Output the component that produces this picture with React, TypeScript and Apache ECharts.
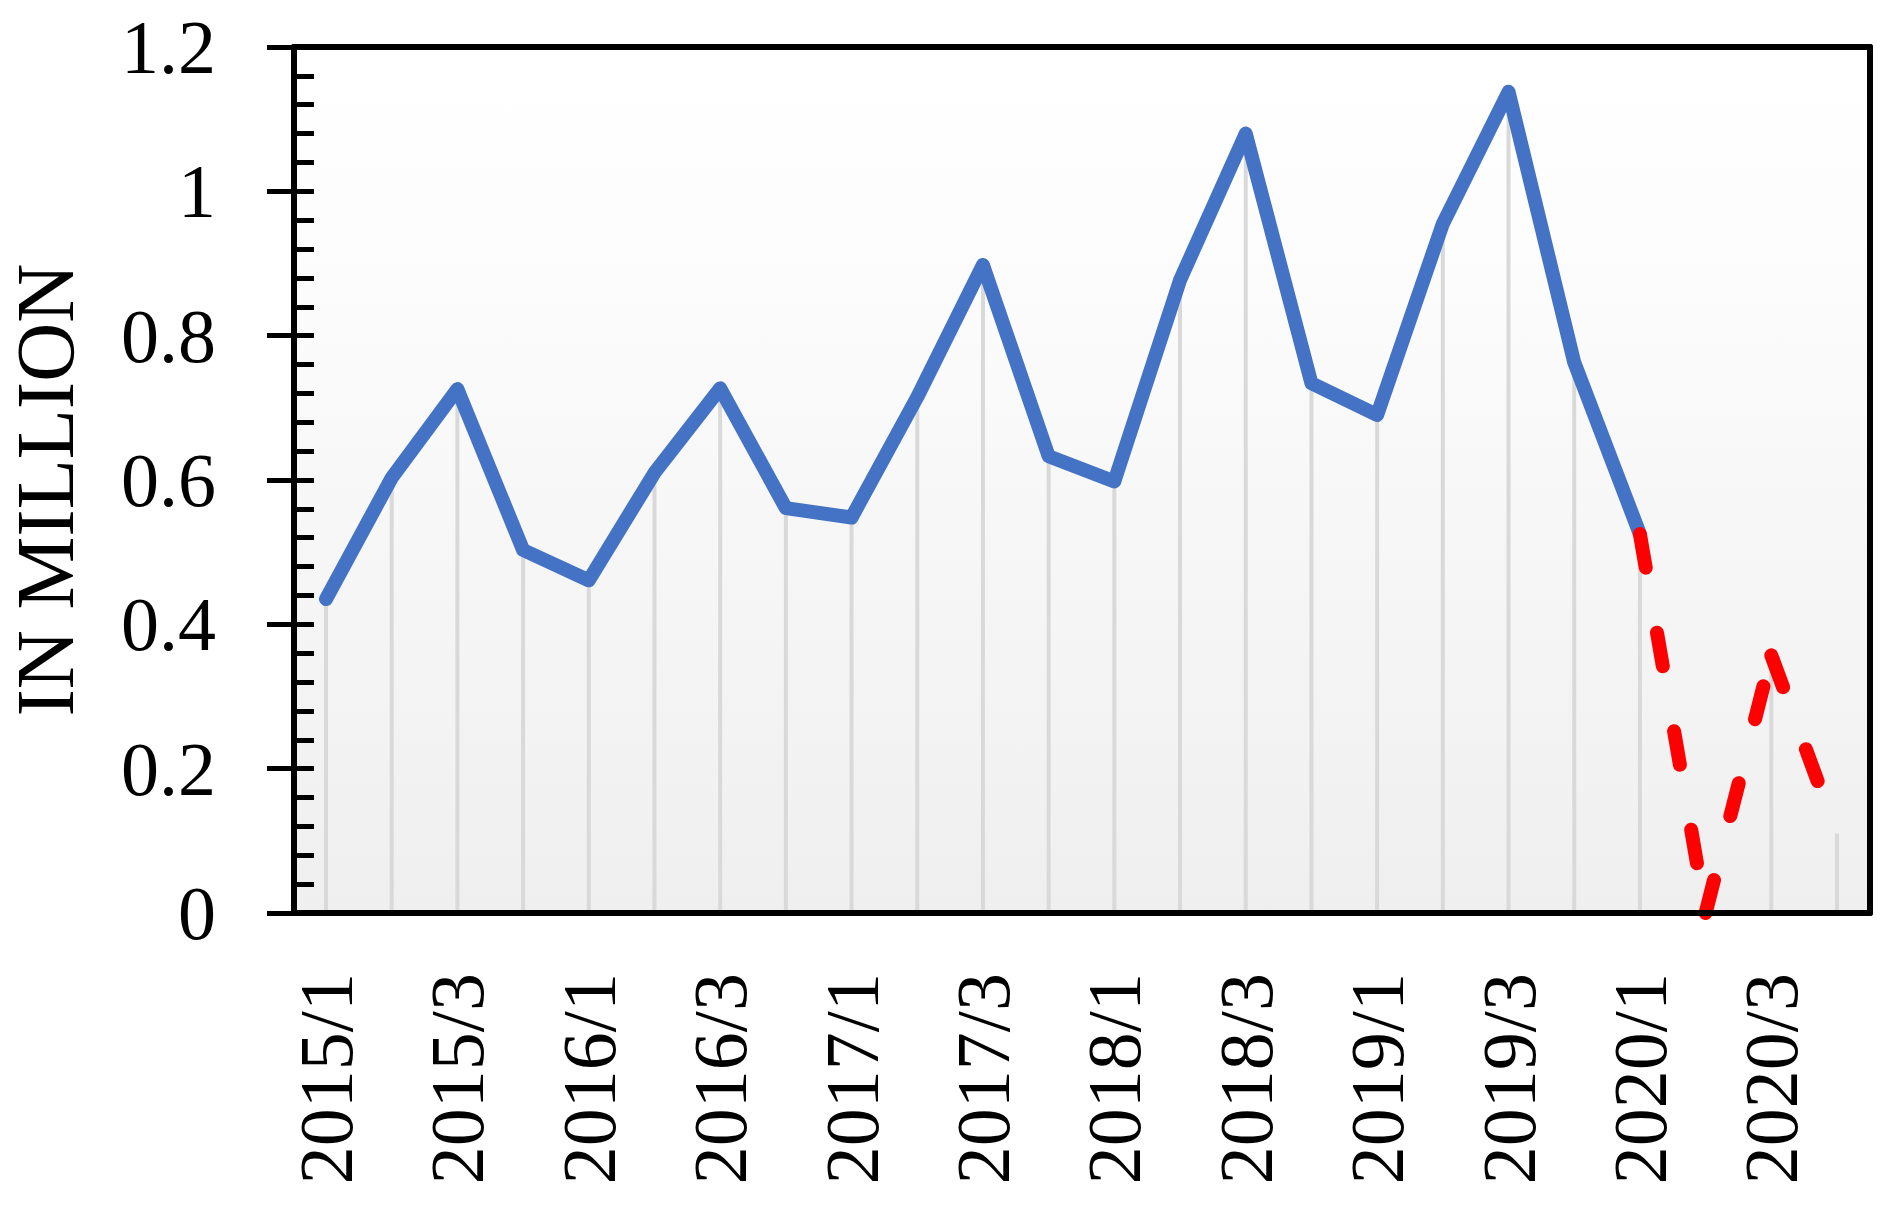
import React, { useEffect, useRef } from "react";
import * as echarts from "echarts";

const categories = [
  "2015/1", "2015/2", "2015/3", "2015/4",
  "2016/1", "2016/2", "2016/3", "2016/4",
  "2017/1", "2017/2", "2017/3", "2017/4",
  "2018/1", "2018/2", "2018/3", "2018/4",
  "2019/1", "2019/2", "2019/3", "2019/4",
  "2020/1", "2020/2", "2020/3", "2020/4",
];

// Actual values (in million)
const actualValues: (number | null)[] = [
  0.435, 0.603, 0.726, 0.503,
  0.461, 0.610, 0.727, 0.561,
  0.548, 0.715, 0.898, 0.633,
  0.598, 0.877, 1.080, 0.734,
  0.690, 0.955, 1.138, 0.763,
  0.525, null, null, null,
];

// Forecast values (red dashed)
const forecastValues: (number | null)[] = [
  null, null, null, null,
  null, null, null, null,
  null, null, null, null,
  null, null, null, null,
  null, null, null, null,
  0.525, 0, 0.357, 0.11,
];

const yMin = 0;
const yMax = 1.2;
const yInterval = 0.2;

const yAxisTitle = "IN MILLION";
const FONT = "'Liberation Serif', 'Times New Roman', serif";

export default function App() {
  const ref = useRef<HTMLDivElement>(null);

  useEffect(() => {
    if (!ref.current) return;
    const chart = echarts.init(ref.current, undefined, { renderer: "svg" });

    const dropValues = categories.map((_, i) =>
      actualValues[i] != null ? actualValues[i] : forecastValues[i]
    );

    // The forecast dash pattern restarts on every segment (as in the source),
    // so each forecast segment becomes its own two-point series.
    const forecastSegments: any[] = [];
    for (let i = 0; i < forecastValues.length - 1; i++) {
      if (forecastValues[i] != null && forecastValues[i + 1] != null) {
        const seg = forecastValues.map((v, j) => (j === i || j === i + 1 ? v : null));
        forecastSegments.push({
          type: "line",
          name: "Forecast",
          xAxisIndex: 2,
          yAxisIndex: 3,
          data: seg,
          showSymbol: false,
          symbol: "none",
          clip: false,
          lineStyle: { color: "#ff0000", width: 14, type: [34, 66], cap: "round", join: "round" },
          z: 4,
        });
      }
    }

    const frameLine = { show: true, onZero: false, lineStyle: { color: "#000", width: 6 } };
    const hidden = {
      axisTick: { show: false },
      axisLabel: { show: false },
      splitLine: { show: false },
    };

    const option: any = {
      animation: false,
      backgroundColor: "#ffffff",
      grid: [
        {
          left: 294,
          right: 19,
          top: 47,
          bottom: 298,
          show: true,
          borderWidth: 0,
          backgroundColor: new echarts.graphic.LinearGradient(0, 0, 0, 1, [
            { offset: 0, color: "#ffffff" },
            { offset: 0.2, color: "#fdfdfd" },
            { offset: 1, color: "#efefef" },
          ]),
        },
        { left: 326, right: 52, top: 47, bottom: 298 },
      ],
      xAxis: [
        { type: "value", gridIndex: 0, position: "bottom", min: 0, max: 1, axisLine: frameLine, z: 10, ...hidden },
        { type: "value", gridIndex: 0, position: "top", min: 0, max: 1, axisLine: frameLine, z: 10, ...hidden },
        {
          type: "category",
          gridIndex: 1,
          data: categories,
          boundaryGap: false,
          axisLine: { show: false },
          axisTick: { show: false },
          splitLine: { show: false },
          axisLabel: {
            interval: 1,
            rotate: 90,
            margin: 60,
            fontSize: 76,
            fontFamily: FONT,
            color: "#000",
          },
        },
      ],
      yAxis: [
        {
          type: "value",
          gridIndex: 0,
          position: "left",
          min: yMin,
          max: yMax,
          interval: yInterval,
          axisLine: frameLine,
          axisTick: { show: true, inside: false, length: 27, lineStyle: { color: "#000", width: 5 } },
          axisLabel: { margin: 78, fontSize: 76, fontFamily: FONT, color: "#000" },
          splitLine: { show: false },
          z: 10,
        },
        {
          type: "value",
          gridIndex: 0,
          position: "left",
          min: yMin,
          max: yMax,
          interval: yInterval,
          axisLine: frameLine,
          axisTick: { show: true, inside: true, length: 20, lineStyle: { color: "#000", width: 5 } },
          minorTick: { show: true, splitNumber: 5, length: 20, lineStyle: { color: "#000", width: 5 } },
          axisLabel: { show: false },
          splitLine: { show: false },
          z: 10,
        },
        { type: "value", gridIndex: 0, position: "right", min: 0, max: 1, axisLine: frameLine, z: 10, ...hidden },
        { type: "value", gridIndex: 1, min: yMin, max: yMax, interval: yInterval, show: false },
      ],
      graphic: [
        {
          type: "text",
          x: 45,
          y: 490,
          rotation: Math.PI / 2,
          style: {
            text: yAxisTitle,
            fontSize: 82,
            fontFamily: FONT,
            fill: "#000",
            align: "center",
            verticalAlign: "middle",
            textAlign: "center",
            textVerticalAlign: "middle",
          },
        },
      ],
      series: [
        {
          type: "bar",
          name: "drop",
          xAxisIndex: 2,
          yAxisIndex: 3,
          data: dropValues,
          barWidth: 4,
          clip: false,
          itemStyle: { color: "#d9d9d9" },
          z: 1,
          silent: true,
        },
        {
          type: "line",
          name: "Actual",
          xAxisIndex: 2,
          yAxisIndex: 3,
          data: actualValues,
          showSymbol: false,
          symbol: "none",
          clip: false,
          lineStyle: { color: "#4472c4", width: 14, cap: "round", join: "round" },
          z: 3,
        },
        ...forecastSegments,
      ],
    };

    chart.setOption(option);
    return () => chart.dispose();
  }, []);

  return (
    <div
      ref={ref}
      style={{ position: "absolute", left: 0, top: 0, width: 1889, height: 1211, background: "#fff" }}
    />
  );
}
